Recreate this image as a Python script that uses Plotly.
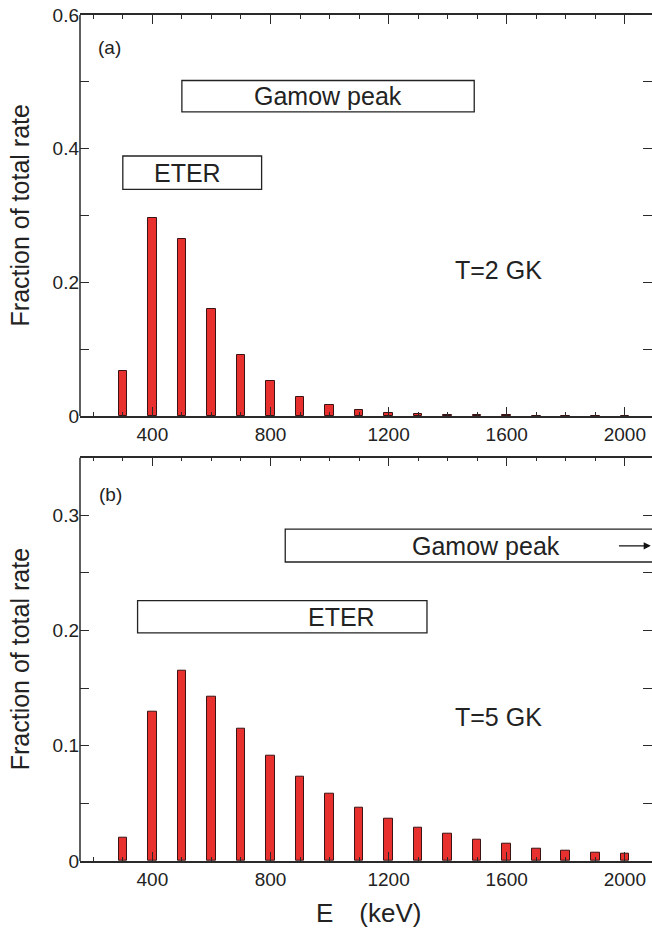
import plotly.graph_objects as go

energy_kev = [300, 400, 500, 600, 700, 800, 900, 1000, 1100, 1200,
              1300, 1400, 1500, 1600, 1700, 1800, 1900, 2000]
frac_T2 = [0.068, 0.297, 0.265, 0.160, 0.092, 0.053, 0.029, 0.017, 0.009, 0.004,
           0.0025, 0.0022, 0.0012, 0.0009, 0.0007, 0.0006, 0.0005, 0.0004]
frac_T5 = [0.0205, 0.130, 0.1655, 0.1425, 0.1147, 0.0913, 0.073, 0.0583, 0.0461, 0.0363,
           0.029, 0.0234, 0.0186, 0.015, 0.0107, 0.0087, 0.0075, 0.0067]

x_ticks = [400, 800, 1200, 1600, 2000]

FONT = "Liberation Sans, Arial, Helvetica, sans-serif"
AX = "#2a2a2a"
BAR_FILL = "#e8302e"
BAR_LINE = "#3a1414"
XR = [155, 2092]
DOM_TOP = [0.526, 1.0]
DOM_BOT = [0.0, 0.4767]

fig = go.Figure()
fig.add_trace(go.Bar(x=energy_kev, y=frac_T2, width=29, xaxis="x", yaxis="y",
                     marker=dict(color=BAR_FILL, line=dict(color=BAR_LINE, width=1)),
                     showlegend=False))
fig.add_trace(go.Bar(x=energy_kev, y=frac_T5, width=29, xaxis="x2", yaxis="y2",
                     marker=dict(color=BAR_FILL, line=dict(color=BAR_LINE, width=1)),
                     showlegend=False))

def xax(anchor):
    return dict(range=XR, anchor=anchor, tickvals=x_ticks, ticks="inside", ticklen=9,
                tickwidth=1.2, tickcolor=AX, showline=True, linecolor=AX, linewidth=1.5,
                mirror="ticks", showgrid=False, zeroline=False,
                minor=dict(dtick=100, tick0=0, ticks="inside", ticklen=4, tickcolor=AX,
                           tickwidth=1.2, showgrid=False),
                tickfont=dict(size=19, family=FONT, color="#222"))

def yax(anchor, domain, rng, dt, mdt):
    return dict(range=rng, domain=domain, anchor=anchor, dtick=dt, tick0=0, ticks="inside",
                ticklen=9, tickwidth=1.2, tickcolor=AX, showline=False,
                mirror="ticks", showgrid=False, zeroline=False,
                minor=dict(dtick=mdt, tick0=0, ticks="inside", ticklen=9, tickcolor=AX,
                           tickwidth=1.2, showgrid=False),
                tickfont=dict(size=19, family=FONT, color="#222"))

fig.update_layout(
    width=652, height=932,
    margin=dict(l=80, r=0, t=15, b=71),
    paper_bgcolor="white", plot_bgcolor="white",
    bargap=0,
    xaxis=xax("y"),
    yaxis=yax("x", DOM_TOP, [0, 0.6], 0.2, 0.1),
    xaxis2=xax("y2"),
    yaxis2=yax("x2", DOM_BOT, [0, 0.35], 0.1, 0.05),
    font=dict(family=FONT, color="#222"),
)

BOX = dict(color="#222", width=1.3)
FRAME = dict(color=AX, width=1.5)
shapes = [
    dict(type="line", xref="paper", yref="y domain", x0=0, x1=0, y0=0, y1=1, line=FRAME),
    dict(type="line", xref="paper", yref="y2 domain", x0=0, x1=0, y0=0, y1=1, line=FRAME),
    dict(type="rect", xref="x", yref="y", x0=500, x1=1490, y0=0.455, y1=0.502, line=BOX),
    dict(type="rect", xref="x", yref="y", x0=300, x1=770, y0=0.339, y1=0.389, line=BOX),
    dict(type="rect", xref="x2", yref="y2", x0=350, x1=1330, y0=0.198, y1=0.226, line=BOX),
    dict(type="rect", xref="x2", yref="y2", x0=850, x1=2150, y0=0.2595, y1=0.288, line=BOX),
]
fig.update_layout(shapes=shapes)

T = dict(family=FONT, color="#222")
ann = [
    dict(xref="x", yref="y", x=256, y=0.5515, text="(a)", showarrow=False, font=dict(size=19, **T)),
    dict(xref="x2", yref="y2", x=259, y=0.318, text="(b)", showarrow=False, font=dict(size=19, **T)),
    dict(xref="x", yref="y", x=995, y=0.4785, text="Gamow peak", showarrow=False, font=dict(size=25, **T)),
    dict(xref="x", yref="y", x=520, y=0.364, text="ETER", showarrow=False, font=dict(size=25, **T)),
    dict(xref="x2", yref="y2", x=1040, y=0.212, text="ETER", showarrow=False, font=dict(size=25, **T)),
    dict(xref="x2", yref="y2", x=1530, y=0.2735, text="Gamow peak", showarrow=False, font=dict(size=25, **T)),
    dict(xref="x", yref="y", x=1572, y=0.2185, text="T=2 GK", showarrow=False, font=dict(size=25, **T)),
    dict(xref="x2", yref="y2", x=1572, y=0.1248, text="T=5 GK", showarrow=False, font=dict(size=25, **T)),
    dict(xref="x2", yref="y2", x=2088, y=0.2735, ax=1975, ay=0.2735, axref="x2", ayref="y2",
         text="", showarrow=True, arrowhead=2, arrowsize=1.1, arrowwidth=1.3, arrowcolor="#111"),
    dict(xref="paper", yref="paper", x=-0.105, y=sum(DOM_TOP) / 2, text="Fraction of total rate",
         textangle=-90, showarrow=False, xanchor="center", yanchor="middle",
         font=dict(size=25, **T)),
    dict(xref="paper", yref="paper", x=-0.105, y=sum(DOM_BOT) / 2, text="Fraction of total rate",
         textangle=-90, showarrow=False, xanchor="center", yanchor="middle",
         font=dict(size=25, **T)),
    dict(xref="paper", yref="paper", x=(368 - 80) / 572, y=(861 - 913) / 846,
         text="E\u2003(keV)", showarrow=False, xanchor="center", yanchor="middle",
         font=dict(size=26, **T)),
]
fig.update_layout(annotations=ann)

fig.write_html("out.html")
